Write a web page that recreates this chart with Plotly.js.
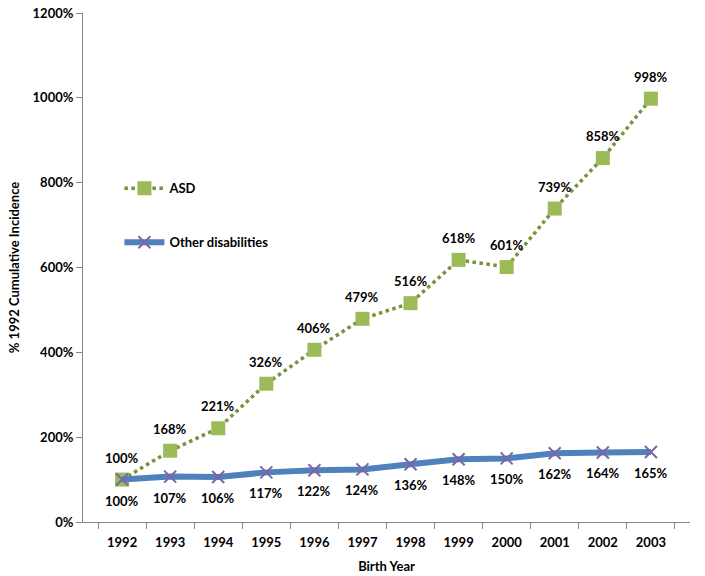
<!DOCTYPE html>
<html>
<head>
<meta charset="utf-8">
<script src="https://cdn.plot.ly/plotly-3.0.1.min.js"></script>
<style>
  html, body { margin: 0; padding: 0; background: #fff; }
  #chart { width: 705px; height: 576px; }
</style>
</head>
<body>
<div id="chart"></div>
<script>
// birth years and cumulative incidence relative to 1992
const years = ['1992', '1993', '1994', '1995', '1996', '1997', '1998', '1999', '2000', '2001', '2002', '2003'];
const asdValues = [100, 168, 221, 326, 406, 479, 516, 618, 601, 739, 858, 998];
const otherValues = [100, 107, 106, 117, 122, 124, 136, 148, 150, 162, 164, 165];
const yTicks = [0, 200, 400, 600, 800, 1000, 1200];

const fontFamily = 'Lato, "Open Sans", sans-serif';
const boldFont = { family: fontFamily, size: 13, color: '#000', weight: 'bold' };

const otherTrace = {
  x: years,
  y: otherValues,
  name: 'Other disabilities',
  type: 'scatter',
  mode: 'lines+markers',
  line: { color: '#4F81BD', width: 6 },
  marker: { symbol: 'x-thin', size: 12, color: '#8064A2', line: { color: '#8064A2', width: 2 } },
  legendgroup: 'b',
  legendrank: 2,
  cliponaxis: false,
};

const asdTrace = {
  x: years,
  y: asdValues,
  name: 'ASD',
  type: 'scatter',
  mode: 'lines+markers',
  line: { color: '#77933C', width: 3.5, dash: 'dot' },
  marker: { symbol: 'square', size: 14, color: '#9BBB59' },
  legendgroup: 'a',
  legendrank: 1,
  cliponaxis: false,
};

// data labels: ASD above its points, other disabilities below
// (x given as category index so the axis range is not stretched)
const labels = [];
years.forEach((yr, i) => {
  labels.push({
    x: i, y: asdValues[i], text: asdValues[i] + '%',
    showarrow: false, yshift: 22, font: boldFont,
  });
  labels.push({
    x: i, y: otherValues[i], text: otherValues[i] + '%',
    showarrow: false, yshift: -21, font: boldFont,
  });
});

const layout = {
  width: 705,
  height: 576,
  margin: { l: 83, r: 15, t: 13, b: 54 },
  paper_bgcolor: '#fff',
  plot_bgcolor: '#fff',
  font: { family: fontFamily, size: 13, color: '#000' },
  showlegend: true,
  legend: {
    x: 0.06,
    y: 0.685,
    xanchor: 'left',
    yanchor: 'top',
    bgcolor: 'rgba(0,0,0,0)',
    traceorder: 'grouped',
    tracegroupgap: 34,
    itemwidth: 40,
    font: boldFont,
  },
  annotations: labels,
  xaxis: {
    type: 'category',
    automargin: false,
    tickson: 'boundaries',
    ticks: 'outside',
    ticklen: 6,
    tickcolor: '#888',
    showline: true,
    linecolor: '#888',
    linewidth: 1,
    showgrid: false,
    zeroline: false,
    ticklabelstandoff: 8,
    tickfont: boldFont,
    title: { text: 'Birth Year', font: boldFont, standoff: 13 },
  },
  yaxis: {
    range: [0, 1200],
    automargin: false,
    tickvals: yTicks,
    ticktext: yTicks.map((v) => v + '%'),
    ticks: 'outside',
    ticklen: 6,
    tickcolor: '#888',
    showline: true,
    linecolor: '#888',
    linewidth: 1,
    showgrid: false,
    zeroline: false,
    tickfont: boldFont,
    title: { text: '% 1992 Cumulative Incidence', font: boldFont, standoff: 10 },
  },
};

Plotly.newPlot('chart', [asdTrace, otherTrace], layout, { displayModeBar: false, staticPlot: true });
</script>
</body>
</html>
